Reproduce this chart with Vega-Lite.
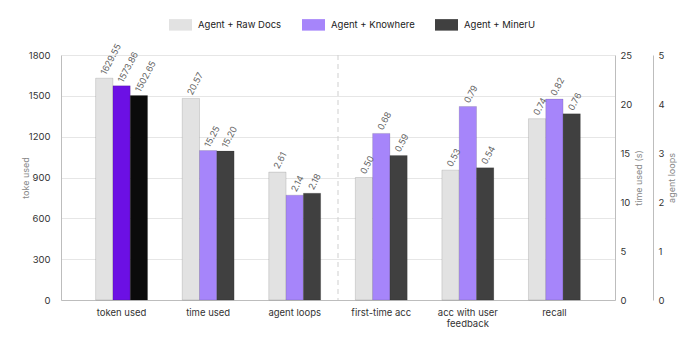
{
  "$schema": "https://vega.github.io/schema/vega-lite/v6.json",
  "width": 554,
  "height": 245,
  "autosize": {"type": "none"},
  "padding": {"left": 61, "top": 55, "right": 85, "bottom": 46},
  "background": "white",
  "data": {
    "values": [
      {"metric": "token used", "series": "Agent + Raw Docs", "value": 1629.55},
      {"metric": "token used", "series": "Agent + Knowhere", "value": 1573.86},
      {"metric": "token used", "series": "Agent + MinerU", "value": 1502.65},
      {"metric": "time used", "series": "Agent + Raw Docs", "value": 20.57},
      {"metric": "time used", "series": "Agent + Knowhere", "value": 15.25},
      {"metric": "time used", "series": "Agent + MinerU", "value": 15.20},
      {"metric": "agent loops", "series": "Agent + Raw Docs", "value": 2.61},
      {"metric": "agent loops", "series": "Agent + Knowhere", "value": 2.14},
      {"metric": "agent loops", "series": "Agent + MinerU", "value": 2.18},
      {"metric": "first-time acc", "series": "Agent + Raw Docs", "value": 0.50},
      {"metric": "first-time acc", "series": "Agent + Knowhere", "value": 0.68},
      {"metric": "first-time acc", "series": "Agent + MinerU", "value": 0.59},
      {"metric": "acc with user feedback", "series": "Agent + Raw Docs", "value": 0.53},
      {"metric": "acc with user feedback", "series": "Agent + Knowhere", "value": 0.79},
      {"metric": "acc with user feedback", "series": "Agent + MinerU", "value": 0.54},
      {"metric": "recall", "series": "Agent + Raw Docs", "value": 0.74},
      {"metric": "recall", "series": "Agent + Knowhere", "value": 0.82},
      {"metric": "recall", "series": "Agent + MinerU", "value": 0.76}
    ]
  },
  "encoding": {
    "x": {
      "field": "metric",
      "type": "nominal",
      "sort": ["token used", "time used", "agent loops", "first-time acc", "acc with user feedback", "recall"],
      "scale": {
        "domain": ["token used", "time used", "agent loops", "first-time acc", "acc with user feedback", "recall"],
        "paddingInner": 0.4,
        "paddingOuter": 0.4
      },
      "axis": {
        "title": null,
        "labelAngle": 0,
        "ticks": false,
        "labelPadding": 7,
        "domainColor": "#bdbdbd",
        "labelFontSize": 9.5,
        "labelColor": "#333333",
        "labelExpr": "datum.label == 'acc with user feedback' ? ['acc with user', 'feedback'] : datum.label"
      }
    }
  },
  "layer": [
    {
      "transform": [{"filter": "datum.metric == 'token used'"}],
      "encoding": {
        "xOffset": {"field": "series", "type": "nominal", "sort": ["Agent + Raw Docs", "Agent + Knowhere", "Agent + MinerU"], "scale": {"domain": ["Agent + Raw Docs", "Agent + Knowhere", "Agent + MinerU"]}},
        "y": {
          "field": "value",
          "type": "quantitative",
          "scale": {"domain": [0, 1800], "nice": false},
          "axis": {
            "orient": "left",
            "values": [0, 300, 600, 900, 1200, 1500, 1800],
            "format": "d",
            "grid": true,
            "gridColor": "#e6e6e6",
            "ticks": false,
            "domainColor": "#bdbdbd",
            "labelPadding": 11,
            "labelFontSize": 9.5,
            "labelColor": "#333333",
            "title": "toke used",
            "titleX": -31,
            "titleFontSize": 9,
            "titleFontWeight": "normal",
            "titleColor": "#888888"
          }
        }
      },
      "layer": [
        {
          "mark": {"type": "bar", "stroke": "#000000", "strokeOpacity": 0.12, "strokeWidth": 1},
          "encoding": {
            "color": {
              "field": "series",
              "type": "nominal",
              "scale": {"domain": ["Agent + Raw Docs", "Agent + Knowhere", "Agent + MinerU"], "range": ["#e2e2e2", "#6c10e4", "#0b0b0b"]},
              "legend": null
            }
          }
        },
        {
          "mark": {"type": "text", "angle": 298, "align": "left", "baseline": "middle", "dx": 3, "dy": -3, "fontSize": 9, "color": "#666666"},
          "encoding": {"text": {"field": "value", "type": "quantitative", "format": ".2f"}}
        }
      ]
    },
    {
      "transform": [{"filter": "datum.metric == 'time used'"}],
      "encoding": {
        "xOffset": {"field": "series", "type": "nominal", "sort": ["Agent + Raw Docs", "Agent + Knowhere", "Agent + MinerU"], "scale": {"domain": ["Agent + Raw Docs", "Agent + Knowhere", "Agent + MinerU"]}},
        "y": {
          "field": "value",
          "type": "quantitative",
          "scale": {"domain": [0, 25], "nice": false},
          "axis": {
            "orient": "right",
            "values": [0, 5, 10, 15, 20, 25],
            "grid": false,
            "ticks": false,
            "domainColor": "#bdbdbd",
            "labelPadding": 5,
            "labelFontSize": 9.5,
            "labelColor": "#333333",
            "title": "time used (s)",
            "titleAngle": 270,
            "titleFontSize": 9,
            "titleFontWeight": "normal",
            "titleColor": "#888888",
            "titlePadding": 12
          }
        }
      },
      "layer": [
        {
          "mark": {"type": "bar", "stroke": "#000000", "strokeOpacity": 0.12, "strokeWidth": 1},
          "encoding": {
            "color": {
              "field": "series",
              "type": "nominal",
              "scale": {"domain": ["Agent + Raw Docs", "Agent + Knowhere", "Agent + MinerU"], "range": ["#e2e2e2", "#a685fa", "#404040"]},
              "legend": {
                "orient": "none",
                "legendX": 108,
                "legendY": -42,
                "direction": "horizontal",
                "title": null,
                "padding": 0,
                "symbolType": "M-1,-0.5H1V0.5H-1Z",
                "symbolSize": 529,
                "symbolStrokeWidth": 0,
                "labelFontSize": 9.5,
                "labelColor": "#222222",
                "labelOffset": 6,
                "columnPadding": 20
              }
            }
          }
        },
        {
          "mark": {"type": "text", "angle": 298, "align": "left", "baseline": "middle", "dx": 3, "dy": -3, "fontSize": 9, "color": "#666666"},
          "encoding": {"text": {"field": "value", "type": "quantitative", "format": ".2f"}}
        }
      ]
    },
    {
      "transform": [{"filter": "datum.metric == 'agent loops'"}],
      "encoding": {
        "xOffset": {"field": "series", "type": "nominal", "sort": ["Agent + Raw Docs", "Agent + Knowhere", "Agent + MinerU"], "scale": {"domain": ["Agent + Raw Docs", "Agent + Knowhere", "Agent + MinerU"]}},
        "y": {
          "field": "value",
          "type": "quantitative",
          "scale": {"domain": [0, 5], "nice": false},
          "axis": {
            "orient": "right",
            "offset": 38,
            "values": [0, 1, 2, 3, 4, 5],
            "grid": false,
            "ticks": false,
            "domainColor": "#bdbdbd",
            "labelPadding": 5,
            "labelFontSize": 9.5,
            "labelColor": "#333333",
            "title": "agent loops",
            "titleAngle": 270,
            "titleFontSize": 9,
            "titleFontWeight": "normal",
            "titleColor": "#888888",
            "titlePadding": 12
          }
        }
      },
      "layer": [
        {
          "mark": {"type": "bar", "stroke": "#000000", "strokeOpacity": 0.12, "strokeWidth": 1},
          "encoding": {
            "color": {
              "field": "series",
              "type": "nominal",
              "scale": {"domain": ["Agent + Raw Docs", "Agent + Knowhere", "Agent + MinerU"], "range": ["#e2e2e2", "#a685fa", "#404040"]},
              "legend": null
            }
          }
        },
        {
          "mark": {"type": "text", "angle": 298, "align": "left", "baseline": "middle", "dx": 3, "dy": -3, "fontSize": 9, "color": "#666666"},
          "encoding": {"text": {"field": "value", "type": "quantitative", "format": ".2f"}}
        }
      ]
    },
    {
      "transform": [{"filter": "datum.metric == 'first-time acc' || datum.metric == 'acc with user feedback' || datum.metric == 'recall'"}],
      "encoding": {
        "xOffset": {"field": "series", "type": "nominal", "sort": ["Agent + Raw Docs", "Agent + Knowhere", "Agent + MinerU"], "scale": {"domain": ["Agent + Raw Docs", "Agent + Knowhere", "Agent + MinerU"]}},
        "y": {
          "field": "value",
          "type": "quantitative",
          "scale": {"domain": [0, 1], "nice": false},
          "axis": null
        }
      },
      "layer": [
        {
          "mark": {"type": "bar", "stroke": "#000000", "strokeOpacity": 0.12, "strokeWidth": 1},
          "encoding": {
            "color": {
              "field": "series",
              "type": "nominal",
              "scale": {"domain": ["Agent + Raw Docs", "Agent + Knowhere", "Agent + MinerU"], "range": ["#e2e2e2", "#a685fa", "#404040"]},
              "legend": null
            }
          }
        },
        {
          "mark": {"type": "text", "angle": 298, "align": "left", "baseline": "middle", "dx": 3, "dy": -3, "fontSize": 9, "color": "#666666"},
          "encoding": {"text": {"field": "value", "type": "quantitative", "format": ".2f"}}
        }
      ]
    },
    {
      "data": {"values": [{"metric": "first-time acc"}]},
      "mark": {"type": "rule", "color": "#cfcfcf", "strokeDash": [5, 4], "strokeWidth": 1},
      "encoding": {
        "x": {"field": "metric", "type": "nominal", "bandPosition": -0.3333}
      }
    }
  ],
  "resolve": {
    "scale": {"y": "independent", "color": "independent"},
    "axis": {"y": "independent"}
  },
  "config": {
    "font": "Inter",
    "view": {"stroke": null},
    "axis": {"labelFont": "Inter", "titleFont": "Inter"},
    "legend": {"labelFont": "Inter"}
  }
}
